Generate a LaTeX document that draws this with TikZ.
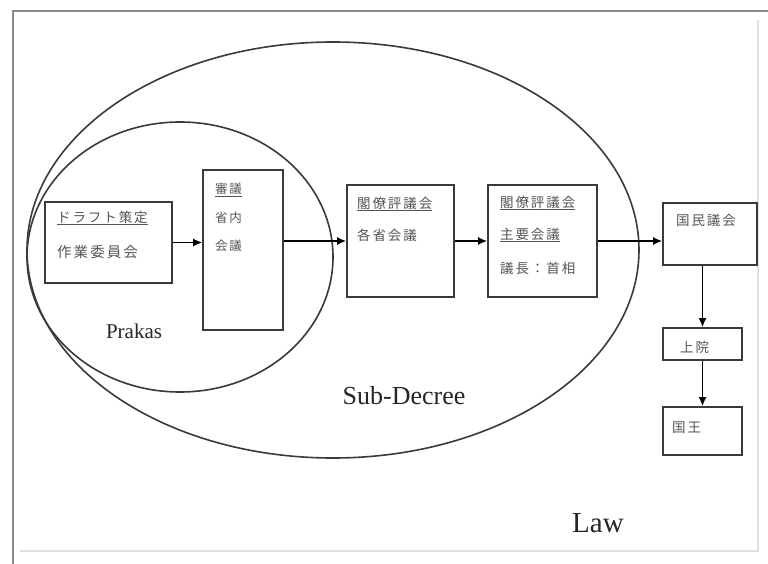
\documentclass[tikz,border=0pt]{standalone}
\usepackage{fontspec}
\setmainfont{Liberation Serif}
\newfontfamily\jp[LetterSpace=14]{Noto Sans CJK JP}
\usetikzlibrary{arrows.meta,positioning}
\definecolor{framegray}{HTML}{8A8A8A}
\definecolor{inkgray}{HTML}{3A3A3A}
\definecolor{txtgray}{HTML}{555555}
\tikzset{
  stage/.style={draw=inkgray, line width=1.6pt, rectangle, inner sep=0pt},
  jlabel/.style={anchor=west, inner sep=0pt, text=txtgray, font=\jp\fontsize{13.5}{14}\selectfont},
  flow/.style={draw=black, line width=1.6pt, -{Latex[length=9pt,width=8pt]}},
  scopeline/.style={draw=inkgray, line width=1.6pt},
  scopename/.style={inner sep=0pt, text=black!85},
}
\begin{document}
\begin{tikzpicture}[x=1pt,y=-1pt]
\useasboundingbox[fill=white] (0,0) rectangle (768,564);
% page frame
\draw[framegray, line width=2pt] (13,564) -- (13,11) -- (768,11);
\draw[black!12, line width=1.2pt] (758,20) -- (758,551) -- (20,551);

% scope ellipses
\draw[scopeline] (333,250) ellipse [x radius=306, y radius=208];
\draw[scopeline] (180,257) ellipse [x radius=153, y radius=135];

% stage boxes
\node[stage, minimum width=127, minimum height=81] (draft) at (108.5,242.5) {};
\node[stage, minimum width=80, minimum height=160] (ministry) at (243,250) {};
\node[stage, minimum width=107, minimum height=112] (council) at (400.5,241) {};
\node[stage, minimum width=109, minimum height=112] (cabinet) at (542.5,241) {};
\node[stage, minimum width=94, minimum height=62] (assembly) at (710,234) {};
\node[stage, minimum width=79, minimum height=32] (senate) at (702.5,344) {};
\node[stage, minimum width=79, minimum height=48] (king) at (702.5,431) {};

% box texts
\node[jlabel] (draftA) at (57,218) {\underline{ドラフト策定}};
\node[jlabel, font=\jp\fontsize{14.5}{15}\selectfont] (draftB) at (57,252) {作業委員会};
\node[jlabel, font=\jp\fontsize{12.5}{13}\selectfont] (minA) at (215,190) {\underline{審議}};
\node[jlabel, font=\jp\fontsize{12.5}{13}\selectfont] (minB) at (215,218) {省内};
\node[jlabel, font=\jp\fontsize{12.5}{13}\selectfont] (minC) at (215,246) {会議};
\node[jlabel] (councilA) at (357,204) {\underline{閣僚評議会}};
\node[jlabel] (councilB) at (357,235) {各省会議};
\node[jlabel] (cabinetA) at (500,203) {\underline{閣僚評議会}};
\node[jlabel] (cabinetB) at (500,235) {\underline{主要会議}};
\node[jlabel] (cabinetC) at (500,268) {議長：首相};
\node[jlabel] (assemblyA) at (676,220) {国民議会};
\node[jlabel] (senateA) at (680,347) {上院};
\node[jlabel] (kingA) at (672,428) {国王};

% flow between stages
\draw[flow] (draft.east) -- (ministry.west |- draft.east);
\draw[flow] (ministry.east |- council.west) -- (council.west);
\draw[flow] (council.east) -- (cabinet.west);
\draw[flow] (cabinet.east) -- (cabinet.east -| assembly.west);
\draw[flow] (assembly.south -| senate.north) -- (senate.north);
\draw[flow] (senate.south) -- (king.north);

% scope names
\node[scopename, font=\fontsize{21}{24}\selectfont] (prakas) at (134,331) {Prakas};
\node[scopename, font=\fontsize{26}{30}\selectfont] (subdecree) at (404,396) {Sub-Decree};
\node[scopename, font=\fontsize{29}{33}\selectfont] (law) at (598,523) {Law};
\end{tikzpicture}
\end{document}
